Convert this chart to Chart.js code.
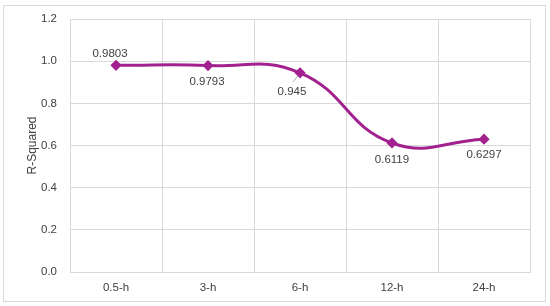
<!DOCTYPE html>
<html>
<head>
<meta charset="utf-8">
<script src="https://cdn.jsdelivr.net/npm/chart.js@4/dist/chart.umd.min.js"></script>
<style>
  html, body { margin: 0; padding: 0; background: #fff; }
  #box {
    position: absolute; left: 3px; top: 5px;
    width: 543px; height: 297px; box-sizing: border-box;
    border: 1px solid #d9d9d9; background: #fff;
  }
  #box canvas { display: block; }
</style>
</head>
<body>
<div id="box"><canvas id="line-chart" width="541" height="295"></canvas></div>
<script>
// chart data
const categories = ['0.5-h', '3-h', '6-h', '12-h', '24-h'];
const rSquared = [0.9803, 0.9793, 0.945, 0.6119, 0.6297];
const valueLabels = ['0.9803', '0.9793', '0.945', '0.6119', '0.6297'];

const lineColor = '#a3218f';
const textColor = '#404040';
const gridColor = '#d9d9d9';

// label placement (dx, dy from the point) like the excel original
const labelOffsets = [
  [-6, -11],
  [-1, 16],
  [-8, 19],
  [0, 17],
  [0, 16],
];

const valueLabelPlugin = {
  id: 'valueLabels',
  afterDatasetsDraw(chart) {
    const ctx = chart.ctx;
    const meta = chart.getDatasetMeta(0);
    ctx.save();
    ctx.font = '11.5px "Liberation Sans", Arial, sans-serif';
    ctx.fillStyle = textColor;
    ctx.textAlign = 'center';
    ctx.textBaseline = 'middle';
    meta.data.forEach((pt, i) => {
      const [dx, dy] = labelOffsets[i];
      ctx.fillText(valueLabels[i], pt.x + dx, pt.y + dy);
    });
    // leader line for the 6-h label
    const p = meta.data[2];
    ctx.strokeStyle = '#a6a6a6';
    ctx.lineWidth = 1;
    ctx.beginPath();
    ctx.moveTo(p.x - 7, p.y + 9);
    ctx.lineTo(p.x - 2, p.y + 3);
    ctx.stroke();
    ctx.restore();
  },
};

const chart = new Chart(document.getElementById('line-chart').getContext('2d'), {
  type: 'line',
  data: {
    labels: categories,
    datasets: [
      {
        label: 'R-Squared',
        data: rSquared,
        borderColor: lineColor,
        backgroundColor: lineColor,
        borderWidth: 3,
        tension: 0.45,
        fill: false,
        pointStyle: 'rectRot',
        pointRadius: 3.5,
        pointHoverRadius: 3.5,
      },
    ],
  },
  options: {
    responsive: false,
    animation: false,
    events: [],
    plugins: {
      legend: { display: false },
      tooltip: { enabled: false },
    },
    layout: {
      autoPadding: false,
      padding: { left: 0, right: 15, top: 13, bottom: 0 },
    },
    scales: {
      x: {
        offset: true,
        grid: { color: gridColor, offset: true, drawTicks: false },
        border: { color: gridColor },
        ticks: {
          color: textColor,
          padding: 9,
          font: { family: '"Liberation Sans", Arial, sans-serif', size: 11.5 },
        },
        afterFit(scale) { scale.height = 29; },
      },
      y: {
        min: 0,
        max: 1.2,
        // invisible tick marks keep the labels away from the axis
        grid: { color: gridColor, drawTicks: true, tickLength: 10, tickColor: 'rgba(0,0,0,0)' },
        border: { color: gridColor },
        ticks: {
          stepSize: 0.2,
          color: textColor,
          padding: 3,
          font: { family: '"Liberation Sans", Arial, sans-serif', size: 11.5 },
          callback: (v) => v.toFixed(1),
        },
        title: {
          display: true,
          text: 'R-Squared',
          color: textColor,
          padding: { top: 21, bottom: 0 },
          font: { family: '"Liberation Sans", Arial, sans-serif', size: 12 },
        },
        afterFit(scale) { scale.width = 66; },
      },
    },
  },
  plugins: [valueLabelPlugin],
});
</script>
</body>
</html>
